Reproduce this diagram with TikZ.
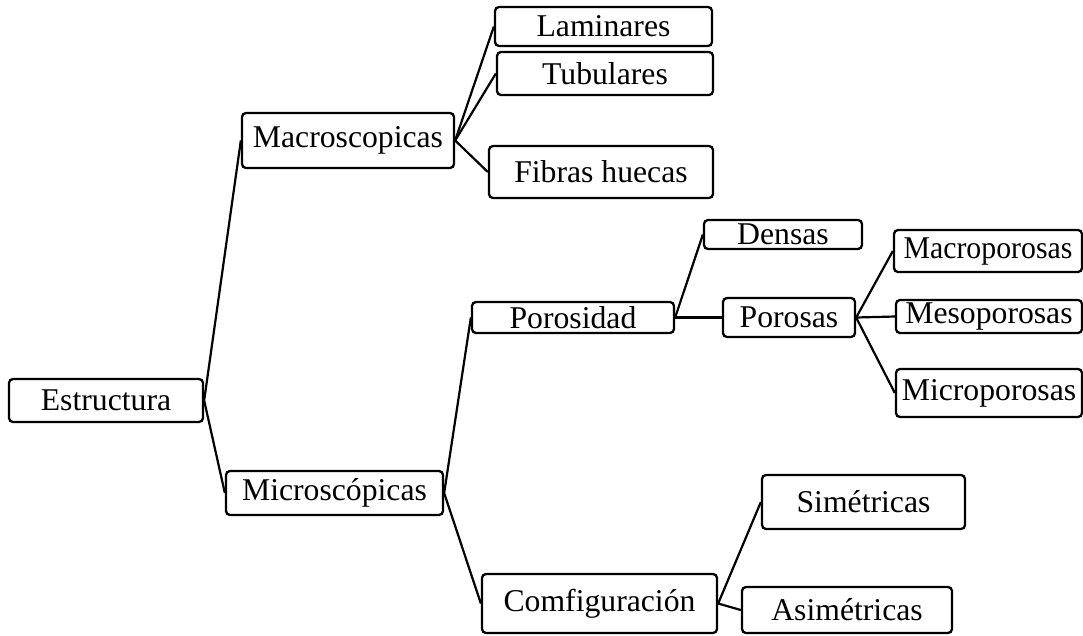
\documentclass[tikz,border=0pt]{standalone}
\usepackage{fontspec}
\setmainfont{Liberation Serif}
\begin{document}
\begin{tikzpicture}[x=1pt,y=-1pt,
  box/.style={draw, line width=2.3pt, rounded corners=4pt, inner sep=0pt,
    font=\fontsize{31.7}{38}\selectfont},
  link/.style={line width=2.2pt, line join=round}]
\useasboundingbox (0,0) rectangle (1083,635);
\node[box, minimum width=194, minimum height=43] (est) at (106,400.5) {Estructura};
\node[box, minimum width=212, minimum height=55] (mac) at (348,140.5) {Macroscopicas};
\node[box, minimum width=217, minimum height=39] (lam) at (603.5,26.5) {Laminares};
\node[box, minimum width=216, minimum height=43] (tub) at (605,73.5) {Tubulares};
\node[box, minimum width=224, minimum height=52] (fib) at (601,172) {Fibras huecas};
\node[box, minimum width=217, minimum height=44] (mic) at (334.5,493) {Microscópicas};
\node[box, minimum width=202, minimum height=31] (por) at (573,317.5) {Porosidad};
\node[box, minimum width=158, minimum height=29] (den) at (783,234.5) {Densas};
\node[box, minimum width=132, minimum height=39] (pos) at (789,317.5) {Porosas};
\node[box, minimum width=188, minimum height=42] (macp) at (988,251) {\scalebox{0.94}[1]{Macroporosas}};
\node[box, minimum width=186, minimum height=33] (mesp) at (989,316.5) {Mesoporosas};
\node[box, minimum width=186, minimum height=48] (micp) at (989,393) {Microporosas};
\node[box, minimum width=203, minimum height=54] (sim) at (863.5,502) {Simétricas};
\node[box, minimum width=235, minimum height=59] (con) at (599.5,603.5) {Comfiguración};
\node[box, minimum width=210, minimum height=46] (asi) at (847,610) {Asimétricas};
\draw[link] (est.east) -- (mac.west);
\draw[link] (est.east) -- (mic.west);
\draw[link] (mac.east) -- (lam.west);
\draw[link] (mac.east) -- (tub.west);
\draw[link] (mac.east) -- (fib.west);
\draw[link] (mic.east) -- (por.west);
\draw[link] (mic.east) -- (con.west);
\draw[link] (por.east) -- (den.west);
\draw[link] (por.east) -- (pos.west);
\draw[link] (pos.east) -- (macp.west);
\draw[link] (pos.east) -- (mesp.west);
\draw[link] (pos.east) -- (micp.west);
\draw[link] (con.east) -- (sim.west);
\draw[link] (con.east) -- (asi.west);
\end{tikzpicture}
\end{document}
